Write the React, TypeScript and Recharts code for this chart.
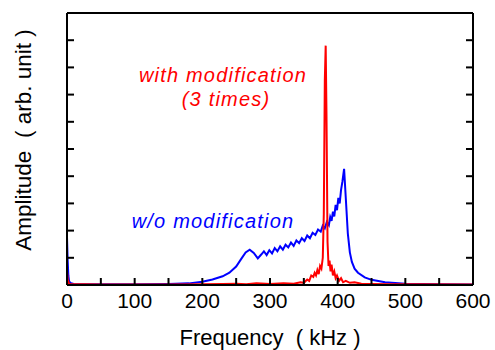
import React from 'react';
import { LineChart, Line, XAxis, YAxis } from 'recharts';

// blue trace: w/o modification
const blueFreq = [
  0, 1, 2, 3, 5, 10, 50, 100, 150, 180, 200, 215, 230, 240, 250, 258, 264, 270, 276, 282, 287,
  291, 295, 299, 303, 307, 311, 315, 319, 323, 327, 331, 335, 339, 343, 347, 351, 355, 359, 363,
  367, 371, 375, 378, 381, 384, 387, 389, 391, 393, 395, 397, 399, 401, 403, 405, 407, 409.5,
  412, 415, 418, 421, 425, 430, 440, 450, 470, 500, 550, 600,
];
const blueAmp = [
  1.76, 0.9, 0.35, 0.15, 0.07, 0.04, 0.03, 0.03, 0.04, 0.06, 0.12, 0.2, 0.32, 0.45, 0.68, 0.98,
  1.2, 1.3, 1.18, 0.98, 1.12, 1.24, 1.1, 1.28, 1.16, 1.36, 1.24, 1.42, 1.3, 1.48, 1.38, 1.56,
  1.44, 1.64, 1.54, 1.72, 1.62, 1.82, 1.72, 1.92, 1.84, 2.04, 1.96, 2.18, 2.08, 2.32, 2.2, 2.5,
  2.36, 2.7, 2.52, 2.95, 2.75, 3.2, 3.0, 3.5, 3.8, 4.27, 3.2, 1.9, 1.2, 0.85, 0.6, 0.45, 0.28,
  0.19, 0.1, 0.05, 0.03, 0.02,
];

// red trace: with modification (3 times)
const redFreq = [
  0, 1, 3, 50, 150, 200, 230, 250, 265, 280, 300, 320, 335, 345, 350, 355, 358, 361, 364, 366,
  368, 370, 372, 374, 376, 378, 379.5, 381, 382.3, 383.5, 385, 386.5, 388, 389.5, 391, 393, 395,
  397, 399, 402, 405, 408, 412, 418, 425, 435, 450, 480, 520, 600,
];
const redAmp = [
  0.5, 0.2, 0.04, 0.02, 0.02, 0.03, 0.04, 0.05, 0.03, 0.06, 0.04, 0.06, 0.05, 0.1, 0.08, 0.2,
  0.15, 0.35, 0.3, 0.45, 0.35, 0.55, 0.4, 0.7, 0.6, 1.0, 2.6, 7.5, 8.8, 6.2, 1.6, 0.7, 0.9, 0.5,
  0.75, 0.35, 0.5, 0.25, 0.35, 0.15, 0.25, 0.1, 0.15, 0.08, 0.1, 0.05, 0.04, 0.03, 0.03, 0.02,
];

const xTicks = [0, 50, 100, 150, 200, 250, 300, 350, 400, 450, 500, 550, 600];
const yTicks = [1, 2, 3, 4, 5, 6, 7, 8, 9];

const blueData = blueFreq.map((f, i) => ({ f, a: blueAmp[i] }));
const redData = redFreq.map((f, i) => ({ f, a: redAmp[i] }));

const FONT = '"Liberation Sans", Arial, sans-serif';
const TICK_LEN = 7;

// ticks point into the plot; labels only on the 100s
const BottomTick = (props: any) => {
  const { x, y, payload } = props;
  return (
    <g>
      <line x1={x} y1={y} x2={x} y2={y - TICK_LEN} stroke="#000" strokeWidth={2} />
      {payload.value % 100 === 0 && (
        <text x={x} y={y + 23} textAnchor="middle" fontFamily={FONT} fontSize={21} fill="#000">
          {payload.value}
        </text>
      )}
    </g>
  );
};

const TopTick = (props: any) => {
  const { x, y } = props;
  return <line x1={x} y1={y} x2={x} y2={y + TICK_LEN} stroke="#000" strokeWidth={2} />;
};

const LeftTick = (props: any) => {
  const { x, y } = props;
  return <line x1={x} y1={y} x2={x + TICK_LEN} y2={y} stroke="#000" strokeWidth={2} />;
};

const RightTick = (props: any) => {
  const { x, y } = props;
  return <line x1={x} y1={y} x2={x - TICK_LEN} y2={y} stroke="#000" strokeWidth={2} />;
};

const frame = { stroke: '#000', strokeWidth: 2 };

export default function App() {
  return (
    <div style={{ position: 'absolute', left: 0, top: 0, width: 495, height: 350, background: '#fff' }}>
      <LineChart width={495} height={350} margin={{ top: 12, right: 21, bottom: 64, left: 66 }}>
        <XAxis
          type="number"
          dataKey="f"
          domain={[0, 600]}
          ticks={xTicks}
          height={1}
          tickSize={0}
          tickMargin={0}
          tickLine={false}
          axisLine={frame}
          tick={<BottomTick />}
          interval={0}
          allowDataOverflow
        />
        <XAxis
          xAxisId="top"
          orientation="top"
          type="number"
          domain={[0, 600]}
          ticks={xTicks}
          height={1}
          tickSize={0}
          tickMargin={0}
          tickLine={false}
          axisLine={frame}
          tick={<TopTick />}
          interval={0}
          allowDataOverflow
        />
        <YAxis
          type="number"
          domain={[0, 10]}
          ticks={yTicks}
          width={1}
          tickSize={0}
          tickMargin={0}
          tickLine={false}
          axisLine={frame}
          tick={<LeftTick />}
          interval={0}
          allowDataOverflow
        />
        <YAxis
          yAxisId="right"
          orientation="right"
          type="number"
          domain={[0, 10]}
          ticks={yTicks}
          width={1}
          tickSize={0}
          tickMargin={0}
          tickLine={false}
          axisLine={frame}
          tick={<RightTick />}
          interval={0}
          allowDataOverflow
        />
        <Line
          data={blueData}
          dataKey="a"
          type="linear"
          stroke="#0000ff"
          strokeWidth={2}
          dot={false}
          isAnimationActive={false}
        />
        <Line
          data={redData}
          dataKey="a"
          type="linear"
          stroke="#ff0000"
          strokeWidth={2}
          dot={false}
          isAnimationActive={false}
        />
        <text x={223} y={82} textAnchor="middle" fontFamily={FONT} fontSize={20} fontStyle="italic" letterSpacing={1.2} fill="#ff0000">
          with modification
        </text>
        <text x={226} y={106} textAnchor="middle" fontFamily={FONT} fontSize={20} fontStyle="italic" letterSpacing={1.2} fill="#ff0000">
          (3 times)
        </text>
        <text x={213} y={228} textAnchor="middle" fontFamily={FONT} fontSize={20} fontStyle="italic" letterSpacing={1.2} fill="#0000ff">
          w/o modification
        </text>
        <text x={270} y={345} textAnchor="middle" fontFamily={FONT} fontSize={22} fill="#000">
          {'Frequency\u00a0\u00a0(\u00a0kHz\u00a0)'}
        </text>
        <text
          x={31}
          y={140}
          textAnchor="middle"
          fontFamily={FONT}
          fontSize={22.5}
          fill="#000"
          transform="rotate(-90 31 140)"
        >
          {'Amplitude\u00a0\u00a0(\u00a0arb.\u00a0unit\u00a0)'}
        </text>
      </LineChart>
    </div>
  );
}
